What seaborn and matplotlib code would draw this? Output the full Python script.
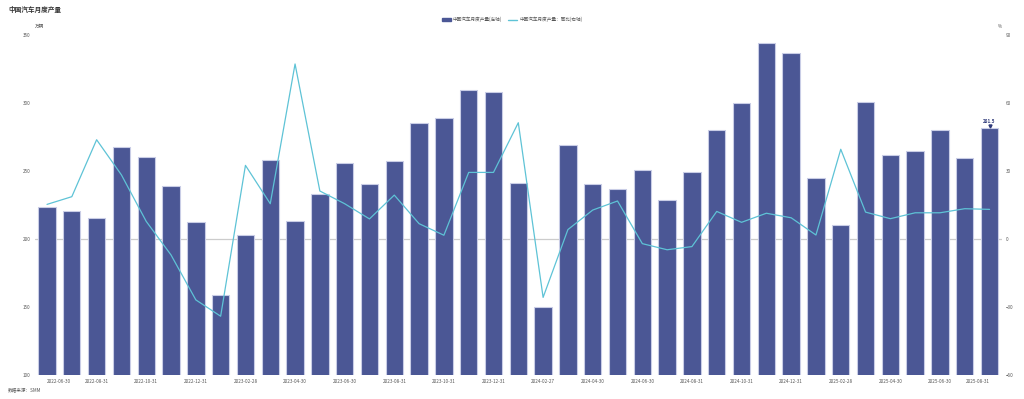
import numpy as np
import pandas as pd
import matplotlib
matplotlib.use("Agg")
import matplotlib.pyplot as plt
import seaborn as sns
from matplotlib.patches import Patch
from matplotlib.lines import Line2D

months = pd.date_range("2022-06-30", "2025-08-31", freq="ME").strftime("%Y-%m-%d").tolist()
months[20] = "2024-02-27"

production = [223.7, 220.7, 215.6, 267.3, 259.9, 238.6, 212.4, 159.0, 203.1, 258.2,
              213.1, 233.2, 256.0, 240.1, 257.5, 284.9, 289.1, 309.4, 308.2, 240.8,
              150.2, 268.7, 240.6, 236.9, 250.6, 228.6, 249.1, 279.8, 299.6, 343.9,
              336.8, 245.0, 210.0, 300.8, 261.9, 264.8, 279.8, 259.2, 281.5]
yoy = [15.2, 18.6, 43.7, 28.2, 7.7, -7.1, -26.9, -34.1, 32.4, 15.5,
       77.1, 21.1, 15.5, 8.8, 19.3, 6.7, 1.6, 29.3, 29.3, 51.2,
       -25.8, 4.1, 12.7, 16.7, -2.1, -4.8, -3.4, 12.1, 7.3, 11.3,
       9.3, 1.7, 39.5, 11.8, 8.9, 11.5, 11.5, 13.3, 13.0]

bar_name = "中国汽车月度产量(左轴)"
line_name = "中国汽车月度产量：同比(右轴)"
title = "中国汽车月度产量"
source = "数据来源：SMM"
left_unit = "万辆"
right_unit = "%"
left_ticks = [100, 150, 200, 250, 300, 350]
right_ticks = [-60, -30, 0, 30, 60, 90]

sns.set_theme(style="white")
plt.rcParams['font.family'] = ['Noto Sans CJK SC', 'DejaVu Sans']

bar_color = "#4b5795"
line_color = "#5ec3d6"
text_color = "#555555"
small = 3.3

df = pd.DataFrame({"month": months, "production": production, "yoy": yoy})
df["pos"] = np.arange(len(df))

fig = plt.figure(figsize=(10.24, 3.99), dpi=100)
ax = fig.add_axes([0.0338, 0.0602, 0.9447, 0.8528])

sns.barplot(data=df, x="month", y="production", ax=ax, color=bar_color,
            width=0.7, edgecolor="#c9cde6", linewidth=0.8, saturation=1)
ax.set_ylim(100, 350)
ax.set_yticks(left_ticks)
ax.set_xlim(-0.5, len(df) - 0.5)
ax.axhline(200, color="#cccccc", linewidth=0.9, zorder=0)

ax2 = ax.twinx()
sns.lineplot(data=df, x="pos", y="yoy", ax=ax2, color=line_color, linewidth=0.9)
ax2.set_ylim(-60, 90)
ax2.set_yticks(right_ticks)
ax2.set_xlim(-0.5, len(df) - 0.5)

for a in (ax, ax2):
    for s in a.spines.values():
        s.set_visible(False)
    a.set_xlabel("")
    a.set_ylabel("")
    a.tick_params(axis="both", length=0, labelsize=small, labelcolor=text_color, pad=3)

ax.set_xticks(df["pos"][::2])
ax.set_xticklabels(df["month"][::2], fontsize=small, color=text_color)
xt = ax.get_xticklabels()
xt[0].set_ha("left")
xt[-1].set_ha("right")

# data label on last bar
last = len(df) - 1
ax.annotate(f"{production[last]:.1f}", xy=(last, production[last]),
            xytext=(0, 3.2), textcoords="offset points", ha="center", va="bottom",
            fontsize=small, color="#2f3a7a", fontweight="bold")
ax.plot([last], [production[last] + 1.3], marker="v", color="#2f3a7a", markersize=2.2,
        clip_on=False)

fig.text(0.008, 0.975, title, fontsize=4.8, fontweight="bold", color="#333333", va="center")
fig.text(0.034, 0.933, left_unit, fontsize=small, color=text_color, va="center")
fig.text(0.9745, 0.933, right_unit, fontsize=small, color=text_color, va="center")
fig.text(0.008, 0.0226, source, fontsize=small, color=text_color, va="center")

handles = [Patch(facecolor=bar_color, edgecolor=bar_color),
           Line2D([0], [0], color=line_color, linewidth=1.0)]
fig.legend(handles, [bar_name, line_name], loc="center", bbox_to_anchor=(0.5, 0.951),
           ncol=2, frameon=False, fontsize=small, handlelength=2.0, handleheight=0.6,
           columnspacing=1.2, handletextpad=0.5, labelcolor=text_color)

fig.savefig("out.png", dpi=100)
